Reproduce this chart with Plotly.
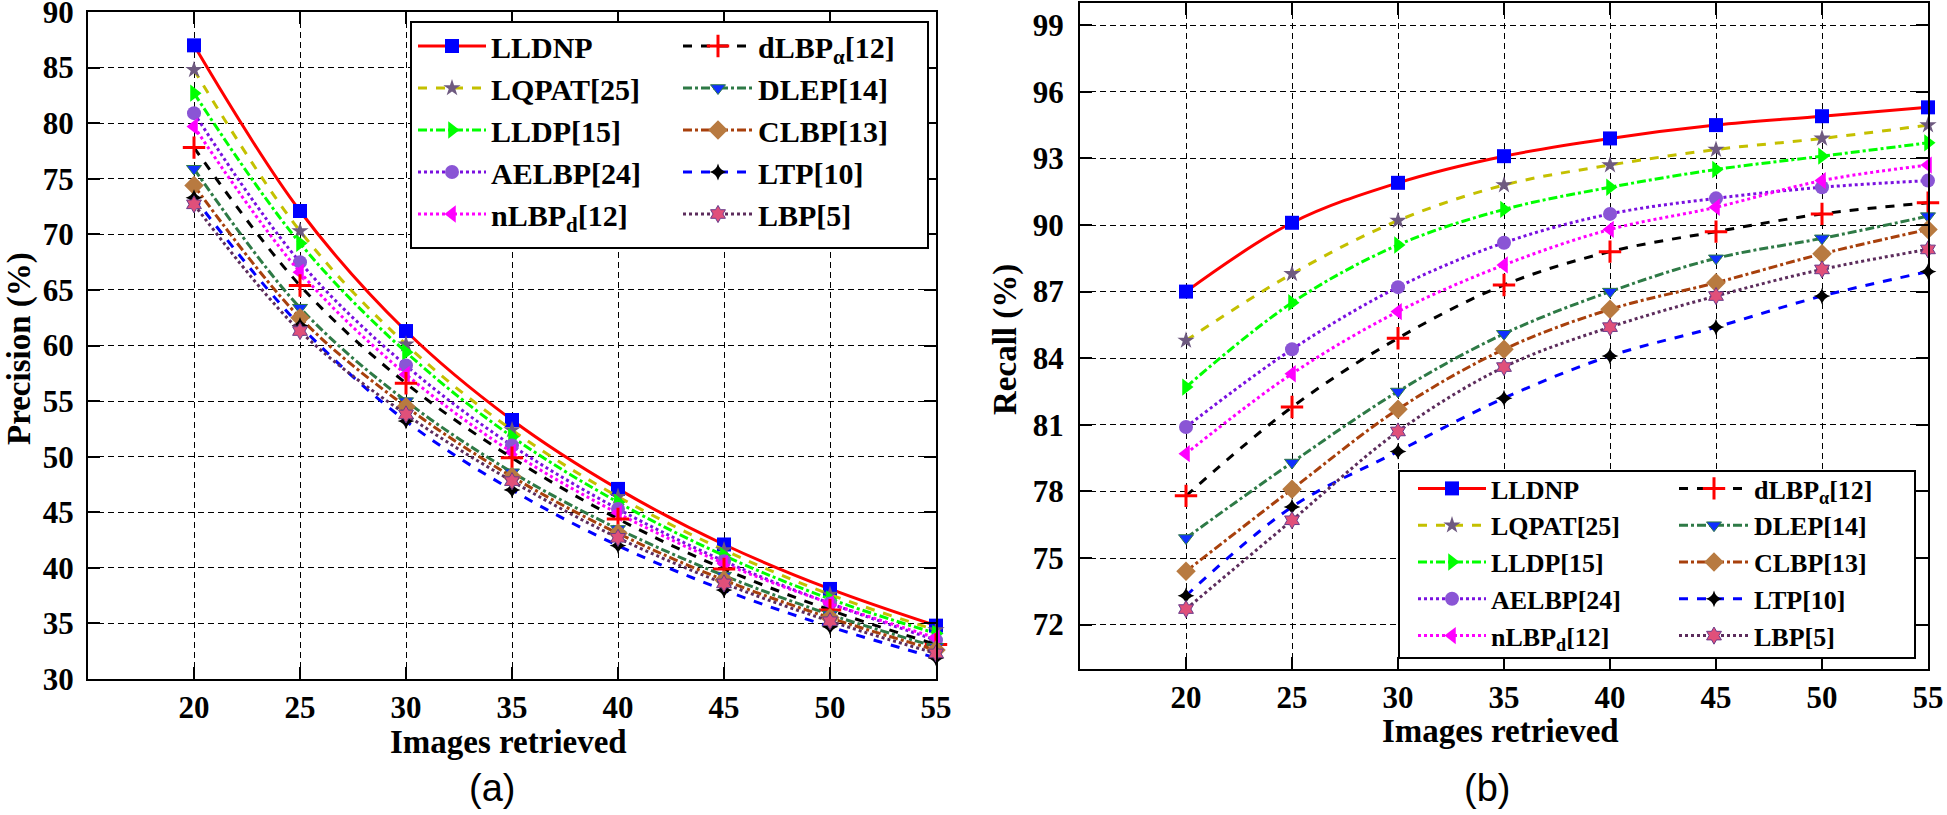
import plotly.graph_objects as go

W, H = 1947, 815

# ---------------- data ----------------
images_retrieved = [20, 25, 30, 35, 40, 45, 50, 55]
x_tick_vals = [20, 25, 30, 35, 40, 45, 50, 55]
precision_tick_vals = [30, 35, 40, 45, 50, 55, 60, 65, 70, 75, 80, 85, 90]
recall_tick_vals = [72, 75, 78, 81, 84, 87, 90, 93, 96, 99]

method_names = ["LLDNP", "LQPAT[25]", "LLDP[15]", "AELBP[24]", "nLBP<sub>d</sub>[12]",
                "dLBP<sub>α</sub>[12]", "DLEP[14]", "CLBP[13]", "LTP[10]", "LBP[5]"]

precision_LLDNP = [87.0, 72.1, 61.3, 53.3, 47.1, 42.1, 38.1, 34.8]
precision_LQPAT = [84.8, 70.3, 60.1, 52.4, 46.4, 41.6, 37.6, 34.4]
precision_LLDP = [82.7, 69.2, 59.4, 51.8, 45.9, 41.1, 37.2, 34.1]
precision_AELBP = [80.9, 67.5, 58.2, 51.0, 45.3, 40.6, 36.8, 33.5]
precision_nLBPd = [79.7, 66.6, 57.4, 50.4, 44.9, 40.4, 36.8, 33.7]
precision_dLBPa = [77.8, 65.4, 56.6, 49.9, 44.4, 39.9, 36.2, 33.1]
precision_DLEP = [75.9, 63.4, 55.0, 48.6, 43.5, 39.3, 35.8, 32.9]
precision_CLBP = [74.4, 62.5, 54.5, 48.2, 43.1, 38.9, 35.5, 32.6]
precision_LTP = [73.3, 61.8, 53.2, 47.0, 42.0, 38.0, 34.7, 31.9]
precision_LBP = [72.7, 61.3, 53.8, 47.8, 42.7, 38.6, 35.2, 32.3]

recall_LLDNP = [87.0, 90.1, 91.9, 93.1, 93.9, 94.5, 94.9, 95.3]
recall_LQPAT = [84.8, 87.8, 90.2, 91.8, 92.7, 93.4, 93.9, 94.5]
recall_LLDP = [82.7, 86.5, 89.1, 90.7, 91.7, 92.5, 93.1, 93.7]
recall_AELBP = [80.9, 84.4, 87.2, 89.2, 90.5, 91.2, 91.7, 92.0]
recall_nLBPd = [79.7, 83.3, 86.1, 88.2, 89.8, 90.8, 92.0, 92.7]
recall_dLBPa = [77.8, 81.8, 84.9, 87.3, 88.8, 89.7, 90.5, 91.0]
recall_DLEP = [75.9, 79.3, 82.5, 85.1, 87.0, 88.5, 89.4, 90.4]
recall_CLBP = [74.4, 78.1, 81.7, 84.4, 86.2, 87.4, 88.7, 89.8]
recall_LTP = [73.3, 77.3, 79.8, 82.2, 84.1, 85.4, 86.8, 87.9]
recall_LBP = [72.7, 76.7, 80.7, 83.6, 85.4, 86.8, 88.0, 88.9]

precision_series = [precision_LLDNP, precision_LQPAT, precision_LLDP, precision_AELBP, precision_nLBPd,
                    precision_dLBPa, precision_DLEP, precision_CLBP, precision_LTP, precision_LBP]
recall_series = [recall_LLDNP, recall_LQPAT, recall_LLDP, recall_AELBP, recall_nLBPd,
                 recall_dLBPa, recall_DLEP, recall_CLBP, recall_LTP, recall_LBP]

# ---------------- styles ----------------
styles = [
    dict(lc="#ff0000", dash="solid", sym="square", mc="#0000ff", ms=14, mlc="#0000ff", mlw=0),
    dict(lc="#c4c000", dash="dash", sym="star", mc="#6e5a80", ms=13, mlc="#6e5a80", mlw=0),
    dict(lc="#00ff00", dash="dashdot", sym="triangle-right", mc="#00ff00", ms=15, mlc="#00ff00", mlw=0),
    dict(lc="#7a10e0", dash="dot", sym="circle", mc="#8a55d5", ms=14, mlc="#8a55d5", mlw=0),
    dict(lc="#ff00ff", dash="dot", sym="triangle-left", mc="#ff00ff", ms=15, mlc="#ff00ff", mlw=0),
    dict(lc="#000000", dash="dash", sym="cross-thin-open", mc="#ff0000", ms=16, mlc="#ff0000", mlw=3),
    dict(lc="#2e7a46", dash="dashdot", sym="triangle-down", mc="#1030ff", ms=13, mlc="#2e7a46", mlw=1),
    dict(lc="#a8400c", dash="dashdot", sym="diamond", mc="#b87a40", ms=15, mlc="#b87a40", mlw=0),
    dict(lc="#0000ff", dash="dash", sym="star-diamond", mc="#000000", ms=12, mlc="#000000", mlw=0),
    dict(lc="#5c2c5c", dash="dot", sym="hexagram", mc="#e0507a", ms=13, mlc="#6a3a8a", mlw=1),
]

SERIF = "Liberation Serif"


def px_x(p):
    """page pixel -> paper fraction"""
    return min(1.0, max(0.0, p / W))


def px_y(p):
    return min(1.0, max(0.0, 1 - p / H))


fig = go.Figure()

for i, name in enumerate(method_names):
    st = styles[i]
    for panel, (ys, xa, ya) in enumerate([(precision_series[i], "x", "y"), (recall_series[i], "x2", "y2")]):
        if panel == 0:
            leg = "legend" if i < 5 else "legend2"
        else:
            leg = "legend3" if i < 5 else "legend4"
        fig.add_trace(go.Scatter(
            x=images_retrieved, y=ys, name=name, xaxis=xa, yaxis=ya, legend=leg,
            mode="lines+markers", cliponaxis=False,
            line=dict(color=st["lc"], dash=st["dash"], width=3, shape="spline", smoothing=1.0),
            marker=dict(symbol=st["sym"], color=st["mc"], size=st["ms"],
                        line=dict(color=st["mlc"], width=st["mlw"])),
        ))

axis_common = dict(
    showline=True, linecolor="black", linewidth=2, mirror="ticks",
    ticks="inside", ticklen=12, tickwidth=2, tickcolor="black",
    showgrid=True, gridcolor="black", gridwidth=1.3, griddash="6px,4px",
    zeroline=False, ticklabeloverflow="allow", automargin=False,
    tickfont=dict(family=SERIF, size=31, color="black", weight="bold"),
)

fig.update_layout(
    width=W, height=H,
    margin=dict(l=0, r=0, t=0, b=0, autoexpand=False),
    paper_bgcolor="white", plot_bgcolor="white",
    xaxis=dict(domain=[px_x(88), px_x(936)], range=[15, 55], tickvals=x_tick_vals,
               anchor="y", ticklabelstandoff=0, **axis_common),
    yaxis=dict(domain=[px_y(679), px_y(12)], range=[30, 90], tickvals=precision_tick_vals,
               anchor="x", ticklabelstandoff=6, **axis_common),
    xaxis2=dict(domain=[px_x(1080), px_x(1928)], range=[15, 55], tickvals=x_tick_vals,
                anchor="y2", ticklabelstandoff=0, **axis_common),
    yaxis2=dict(domain=[px_y(669), px_y(3)], range=[70, 100], tickvals=recall_tick_vals,
                anchor="x2", ticklabelstandoff=8, **axis_common),
)

leg_left_font = dict(family=SERIF, size=30, color="black", weight="bold")
leg_right_font = dict(family=SERIF, size=26, color="black", weight="bold")
leg_common = dict(xanchor="left", yanchor="top", bgcolor="rgba(0,0,0,0)", borderwidth=0,
                  orientation="v", tracegroupgap=0)

fig.update_layout(
    legend=dict(x=px_x(413), y=px_y(20), font=leg_left_font, itemwidth=68, **leg_common),
    legend2=dict(x=px_x(678), y=px_y(20), font=leg_left_font, itemwidth=70, **leg_common),
    legend3=dict(x=px_x(1413), y=px_y(465), font=leg_right_font, itemwidth=68, **leg_common),
    legend4=dict(x=px_x(1674), y=px_y(465), font=leg_right_font, itemwidth=70, **leg_common),
)

# legend frames
fig.add_shape(type="rect", xref="paper", yref="paper",
              x0=px_x(411), x1=px_x(928), y0=px_y(248), y1=px_y(22),
              line=dict(color="black", width=2), fillcolor="white", layer="above")
fig.add_shape(type="rect", xref="paper", yref="paper",
              x0=px_x(1399), x1=px_x(1915), y0=px_y(658), y1=px_y(471),
              line=dict(color="black", width=2), fillcolor="white", layer="above")

title_font = dict(family=SERIF, size=33, color="black", weight="bold")
annotations = [
    dict(text="Precision (%)", x=px_x(19), y=px_y(349), textangle=-90, font=title_font),
    dict(text="Images retrieved", x=px_x(508), y=px_y(742), font=title_font),
    dict(text="Recall (%)", x=px_x(1005), y=px_y(340), textangle=-90, font=title_font),
    dict(text="Images retrieved", x=px_x(1500), y=px_y(731), font=title_font),
    dict(text="(a)", x=px_x(492), y=px_y(788), font=dict(family="Liberation Sans", size=38, color="black")),
    dict(text="(b)", x=px_x(1487), y=px_y(788), font=dict(family="Liberation Sans", size=38, color="black")),
]
for a in annotations:
    fig.add_annotation(xref="paper", yref="paper", showarrow=False,
                       xanchor="center", yanchor="middle", **a)

# remove the browser's default 8px page margin so the figure fills the window exactly
fig.write_html(
    "out.html",
    config={"displayModeBar": False},
    post_script="document.documentElement.style.margin='0';document.body.style.margin='0';"
                "document.body.style.overflow='hidden';document.documentElement.style.overflow='hidden';",
)
